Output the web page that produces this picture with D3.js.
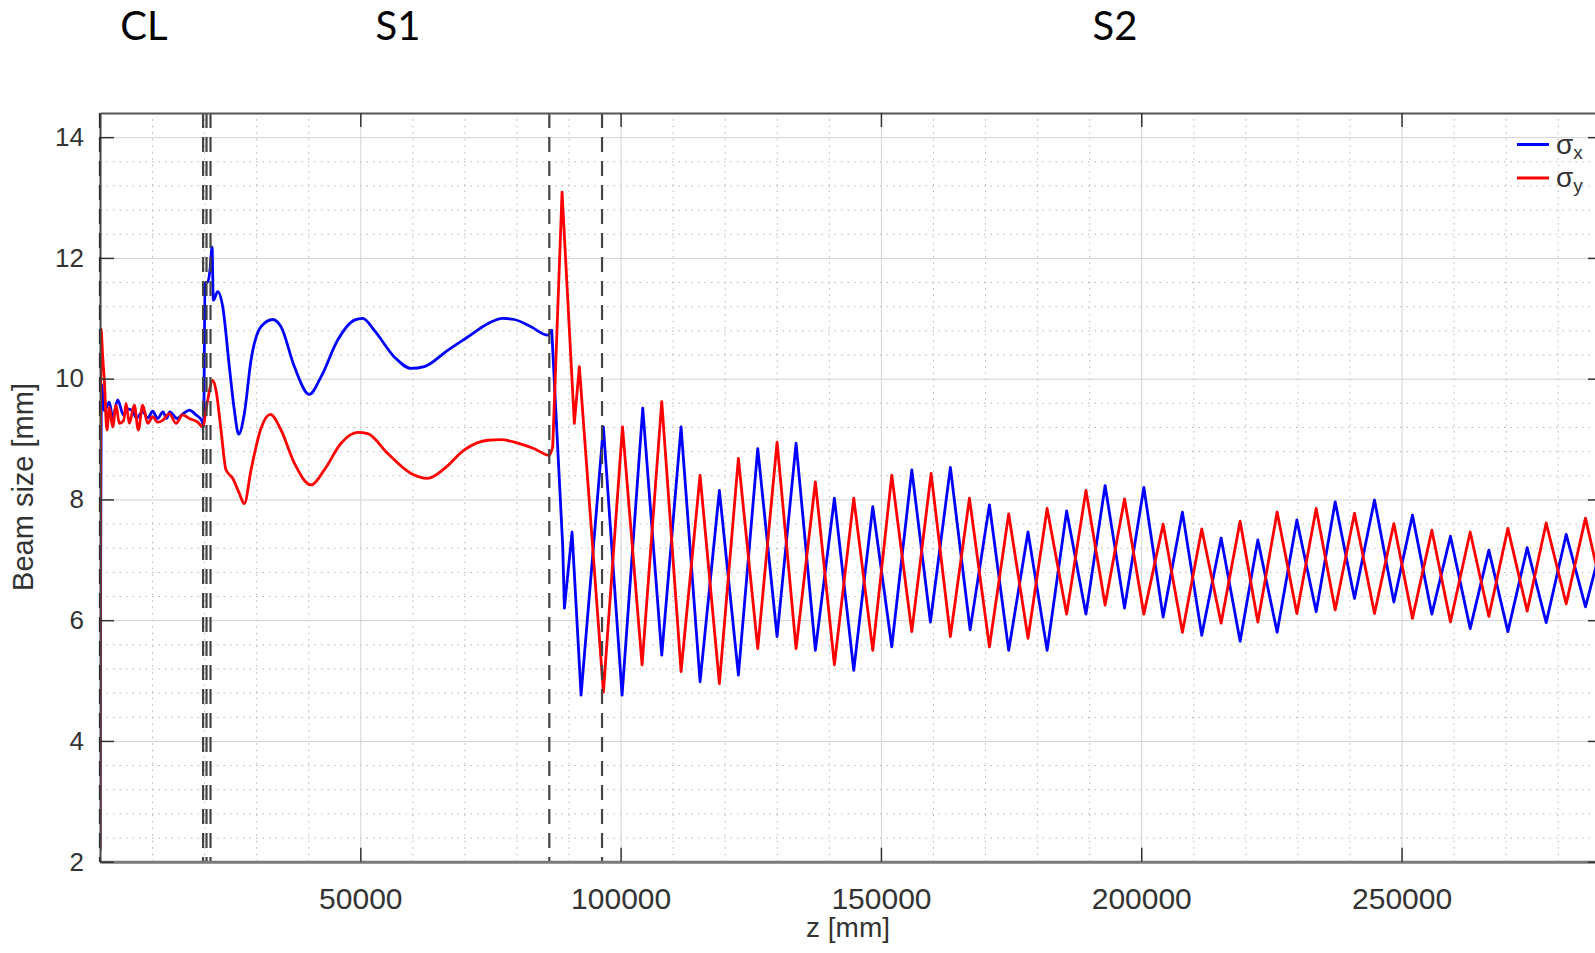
<!DOCTYPE html>
<html>
<head>
<meta charset="utf-8">
<script src="https://cdn.jsdelivr.net/npm/d3@7"></script>
<style>
    body { margin: 0; background: #fff; overflow: hidden; }
    svg { display: block; }
</style>
</head>
<body>
<div id="chart"></div>
<script>
// sigma_x (blue)
const zX = [0, 300, 830, 1790, 2440, 3400, 4500, 5300, 6200, 7000, 8200, 9200, 10120, 11080, 12100, 12800, 13400, 14800, 16000, 17150, 18450, 19600, 19900,
    20170, 20690, 21190, 21520, 21770, 22610, 23570, 24840, 25800, 26640, 27720, 29010, 30930, 33180, 34770, 37330, 40210, 42450, 45660, 48850, 50460, 52690, 56530, 59740, 62300, 66790, 70630, 74480, 77360, 79590, 82790, 86000, 86770,
    88880, 89200, 90670, 92400, 96690, 100280, 104250, 107900, 111610, 115260, 118970, 122620, 126340, 130050, 133700, 137410, 141060, 144780, 148430, 152080, 155930, 159500, 163340, 167130, 170840,
    174540, 178250, 181920, 185670, 189380, 193060, 196790, 200500, 204200, 207910, 211620, 215340, 218990, 222390, 226100, 229890, 233600, 237250, 240960, 244800, 248520, 252090, 255820, 259390, 263180, 266770, 270420, 274130, 277780, 281620, 285330, 288730];
const sigmaX = [2.2, 9.9, 9.47, 9.61, 9.35, 9.65, 9.4, 9.5, 9.47, 9.35, 9.45, 9.35, 9.46, 9.34, 9.45, 9.34, 9.45, 9.34, 9.42, 9.48, 9.4, 9.3, 9.2,
    11.58, 11.6, 11.85, 12.18, 11.3, 11.44, 11.19, 10.2, 9.48, 9.08, 9.42, 10.31, 10.86, 10.98, 10.86, 10.2, 9.74, 10.03, 10.64, 10.97, 11.0, 10.8, 10.36, 10.17, 10.2, 10.47, 10.69, 10.91, 11.0, 10.98, 10.86, 10.72, 10.8,
    7.22, 6.2, 7.46, 4.76, 9.2, 4.76, 9.51, 5.42, 9.2, 4.98, 8.15, 5.09, 8.84, 5.73, 8.93, 5.5, 8.02, 5.17, 7.88, 5.56, 8.49, 5.97, 8.53, 5.84, 7.91,
    5.5, 7.46, 5.5, 7.81, 6.1, 8.23, 6.2, 8.2, 6.05, 7.79, 5.75, 7.36, 5.65, 7.33, 5.8, 7.66, 6.14, 7.96, 6.36, 7.99, 6.3, 7.74, 6.1, 7.39, 5.86, 7.16, 5.81, 7.2, 5.96, 7.42, 6.22, 7.35];

// sigma_y (red)
const zY = [0, 190, 520, 830, 1340, 1790, 2440, 3070, 3710, 4550, 5000, 5630, 6590, 7360, 8200, 9160, 10120, 11080, 12040, 13310, 14600, 15890, 17150, 18770, 19730,
    20560, 21650, 22280, 23240, 24200, 25490, 26760, 27720, 29010, 30930, 32720, 34770, 37330, 40530, 43090, 46300, 49500, 51420, 55270, 59740, 62950, 66140, 69980, 74480, 77030, 79590, 83430, 86310, 86960,
    88750, 91110, 92070, 96690, 100360, 104120, 107900, 111610, 115260, 118970, 122620, 126340, 130050, 133700, 137410, 141060, 144780, 148430, 152080, 155930, 159640, 163340, 167000, 170840,
    174540, 178250, 181920, 185670, 189380, 193060, 196790, 200500, 204200, 207910, 211620, 215340, 218990, 222390, 226100, 229890, 233600, 237250, 240960, 244800, 248520, 252090, 255820, 259390, 263180, 266770, 270420, 274130, 277780, 281620, 285330, 288730];
const sigmaY = [2.2, 10.83, 10.36, 9.97, 9.15, 9.53, 9.2, 9.56, 9.26, 9.31, 9.59, 9.26, 9.56, 9.15, 9.56, 9.26, 9.37, 9.28, 9.31, 9.42, 9.26, 9.4, 9.34, 9.28, 9.2,
    9.59, 9.97, 9.81, 9.15, 8.49, 8.35, 8.1, 7.93, 8.49, 9.18, 9.41, 9.15, 8.6, 8.24, 8.49, 8.93, 9.11, 9.09, 8.76, 8.43, 8.35, 8.51, 8.82, 8.98, 8.99, 8.95, 8.84, 8.73, 8.87,
    13.09, 9.26, 10.2, 4.81, 9.2, 5.26, 9.62, 5.15, 8.4, 4.95, 8.68, 5.53, 8.95, 5.53, 8.29, 5.26, 8.02, 5.5, 8.4, 5.81, 8.43, 5.73, 8.02, 5.56,
    7.76, 5.7, 7.85, 6.1, 8.15, 6.25, 8.01, 6.1, 7.59, 5.8, 7.51, 5.95, 7.64, 5.97, 7.79, 6.11, 7.85, 6.17, 7.77, 6.11, 7.6, 6.03, 7.49, 5.97, 7.46, 6.06, 7.52, 6.15, 7.61, 6.27, 7.69, 6.4];

// section boundaries (dashed lines)
const boundaryZ = [0, 19800, 20460, 21225, 86300, 96430];
const sectionNames = ["CL", "S1", "S2"];

const xTicks = [50000, 100000, 150000, 200000, 250000];
const yTicks = [2, 4, 6, 8, 10, 12, 14];
const legendNames = ["x", "y"];

var width = 1595;
var height = 953;
// plot box (note: "top" is a reserved window property, so use other names)
var plotLeft = 100, plotRight = 1602, plotTop = 113, plotBottom = 861.7;
var tickLen = 14;
// where the smooth part (CL, S1) ends and the sharp zigzag of S2 begins
var smoothEndZ = 87000;

var svg = d3.select("#chart")
    .append("svg")
    .attr("width", width)
    .attr("height", height);

svg.append("rect")
    .attr("width", width)
    .attr("height", height)
    .attr("fill", "#fff");

var x = d3.scaleLinear().domain([0, 288500]).range([plotLeft, plotRight]);
var y = d3.scaleLinear().domain([2, 14.4]).range([plotBottom, plotTop]);

//minor grid
var minorX = d3.range(10000, 288500, 10000).filter(d => d % 50000 !== 0);
var minorY = d3.range(2.4, 14.41, 0.4).filter(d => Math.abs(d / 2 - Math.round(d / 2)) > 0.01);

svg.append("g")
    .attr("transform", `translate(0,${plotBottom})`)
    .call(d3.axisBottom(x).tickValues(minorX).tickSize(-(plotBottom - plotTop)).tickFormat(""))
    .call(g => g.select(".domain").remove())
    .selectAll("line")
    .attr("stroke", "#b5b5b5")
    .attr("stroke-dasharray", "1.5,5");

svg.append("g")
    .attr("transform", `translate(${plotLeft},0)`)
    .call(d3.axisLeft(y).tickValues(minorY).tickSize(-(plotRight - plotLeft)).tickFormat(""))
    .call(g => g.select(".domain").remove())
    .selectAll("line")
    .attr("stroke", "#b5b5b5")
    .attr("stroke-dasharray", "1.5,5");

//major grid
svg.append("g")
    .attr("transform", `translate(0,${plotBottom})`)
    .call(d3.axisBottom(x).tickValues(xTicks).tickSize(-(plotBottom - plotTop)).tickFormat(""))
    .call(g => g.select(".domain").remove())
    .selectAll("line")
    .attr("stroke", "#d2d2d2")
    .attr("stroke-width", 1);

svg.append("g")
    .attr("transform", `translate(${plotLeft},0)`)
    .call(d3.axisLeft(y).tickValues(yTicks).tickSize(-(plotRight - plotLeft)).tickFormat(""))
    .call(g => g.select(".domain").remove())
    .selectAll("line")
    .attr("stroke", "#d2d2d2")
    .attr("stroke-width", 1);

//clip for the data
svg.append("clipPath")
    .attr("id", "plot-clip")
    .append("rect")
    .attr("x", plotLeft)
    .attr("y", plotTop)
    .attr("width", plotRight - plotLeft)
    .attr("height", plotBottom - plotTop);

var smoothLine = d3.line()
    .x(d => x(d[0]))
    .y(d => y(d[1]))
    .curve(d3.curveMonotoneX);

var sharpLine = d3.line()
    .x(d => x(d[0]))
    .y(d => y(d[1]));

var plot = svg.append("g").attr("clip-path", "url(#plot-clip)");

function drawSeries(zs, vals, color) {
    var pts = zs.map((z, i) => [z, vals[i]]);
    var cut = pts.findIndex(p => p[0] > smoothEndZ);
    var smoothPart = pts.slice(0, cut);
    var sharpPart = pts.slice(cut - 1);

    plot.append("path")
        .datum(smoothPart)
        .attr("d", smoothLine)
        .attr("fill", "none")
        .attr("stroke", color)
        .attr("stroke-width", 2.8)
        .attr("stroke-linejoin", "round")
        .attr("stroke-linecap", "round");

    plot.append("path")
        .datum(sharpPart)
        .attr("d", sharpLine)
        .attr("fill", "none")
        .attr("stroke", color)
        .attr("stroke-width", 2.8)
        .attr("stroke-linejoin", "round")
        .attr("stroke-linecap", "round");
}

drawSeries(zX, sigmaX, "#0000ff");
drawSeries(zY, sigmaY, "#ff0000");

//dashed section lines
svg.selectAll(".boundary")
    .data(boundaryZ)
    .enter()
    .append("line")
    .attr("class", "boundary")
    .attr("x1", d => x(d))
    .attr("x2", d => x(d))
    .attr("y1", plotTop)
    .attr("y2", plotBottom)
    .attr("stroke", (d, i) => i === 0 ? "#111" : "#444")
    .attr("stroke-width", 2.2)
    .attr("stroke-dasharray", "15,9");

//axes box
var axisColor = "#333";
var fontFamily = "'Liberation Sans', Arial, Helvetica, sans-serif";

var xAxis = svg.append("g")
    .attr("transform", `translate(0,${plotBottom})`)
    .call(d3.axisBottom(x).tickValues(xTicks).tickSizeInner(-tickLen).tickSizeOuter(0).tickPadding(26).tickFormat(d3.format("d")));
xAxis.select(".domain").attr("stroke", "#7a7a7a").attr("stroke-width", 3);
xAxis.selectAll(".tick line").attr("stroke", axisColor).attr("stroke-width", 1.5);
xAxis.selectAll("text")
    .attr("fill", "#333")
    .style("font-family", fontFamily)
    .style("font-size", "30px");

var yAxis = svg.append("g")
    .attr("transform", `translate(${plotLeft},0)`)
    .call(d3.axisLeft(y).tickValues(yTicks).tickSizeInner(-tickLen).tickSizeOuter(0).tickPadding(16));
yAxis.select(".domain").attr("stroke", "#444").attr("stroke-width", 2);
yAxis.selectAll(".tick line").attr("stroke", axisColor).attr("stroke-width", 1.5);
yAxis.selectAll("text")
    .attr("fill", "#333")
    .style("font-family", fontFamily)
    .style("font-size", "26px");

var topAxis = svg.append("g")
    .attr("transform", `translate(0,${plotTop})`)
    .call(d3.axisTop(x).tickValues(xTicks).tickSizeInner(-tickLen).tickSizeOuter(0).tickFormat(""));
topAxis.select(".domain").attr("stroke", "#555").attr("stroke-width", 2);
topAxis.selectAll(".tick line").attr("stroke", axisColor).attr("stroke-width", 1.5);

var rightAxis = svg.append("g")
    .attr("transform", `translate(${plotRight},0)`)
    .call(d3.axisRight(y).tickValues(yTicks).tickSizeInner(-tickLen).tickSizeOuter(0).tickFormat(""));
rightAxis.select(".domain").attr("stroke", "#444").attr("stroke-width", 2);
rightAxis.selectAll(".tick line").attr("stroke", axisColor).attr("stroke-width", 1.5);

//axis titles
svg.append("text")
    .attr("x", 848)
    .attr("y", 937)
    .attr("text-anchor", "middle")
    .attr("fill", "#333")
    .style("font-family", fontFamily)
    .style("font-size", "28px")
    .text("z [mm]");

svg.append("text")
    .attr("transform", "translate(33,487) rotate(-90)")
    .attr("text-anchor", "middle")
    .attr("fill", "#333")
    .style("font-family", fontFamily)
    .style("font-size", "29px")
    .text("Beam size [mm]");

//section names above the plot
var sectionLabelX = [144, 398, 1115];
svg.selectAll(".section")
    .data(sectionNames)
    .enter()
    .append("text")
    .attr("class", "section")
    .attr("x", (d, i) => sectionLabelX[i])
    .attr("y", 40)
    .attr("text-anchor", "middle")
    .attr("fill", "#000")
    .style("font-family", "Lato, 'Open Sans', sans-serif")
    .style("font-size", "40px")
    .text(d => d);

//legend
var legendColors = ["#0000ff", "#ff0000"];
var legend = svg.selectAll(".legend")
    .data(legendNames)
    .enter()
    .append("g")
    .attr("class", "legend")
    .attr("transform", (d, i) => `translate(1517,${144.5 + i * 33.5})`);

legend.append("line")
    .attr("x1", 0)
    .attr("x2", 32)
    .attr("stroke", (d, i) => legendColors[i])
    .attr("stroke-width", 3);

var legendText = legend.append("text")
    .attr("x", 39)
    .attr("y", 9)
    .attr("fill", "#333")
    .style("font-family", fontFamily)
    .style("font-size", "28px");

legendText.append("tspan").text("σ");
legendText.append("tspan")
    .attr("dy", 5)
    .style("font-size", "19px")
    .text(d => d);
</script>
</body>
</html>
